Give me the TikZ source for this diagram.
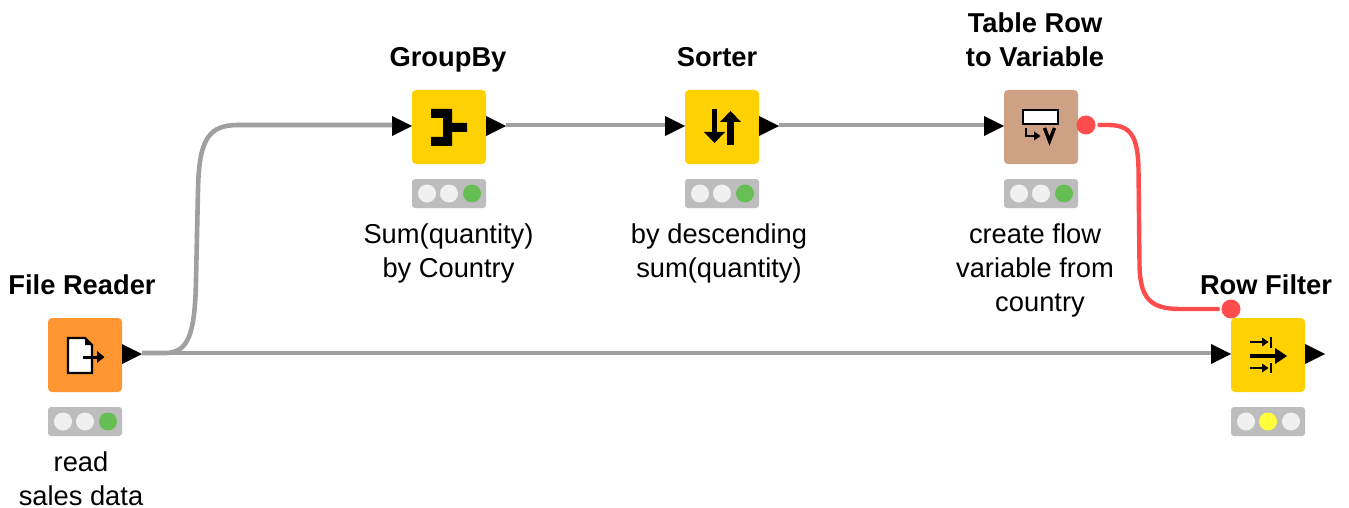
\documentclass[tikz,border=0pt]{standalone}
\usepackage{fontspec}
\setmainfont{Liberation Sans}
\usetikzlibrary{shapes.geometric}
\definecolor{kOrange}{RGB}{255,150,50}
\definecolor{kYellow}{RGB}{255,209,0}
\definecolor{kTan}{RGB}{207,161,132}
\definecolor{kGrey}{RGB}{160,160,160}
\definecolor{kRed}{RGB}{255,77,77}
\definecolor{kBar}{RGB}{189,189,189}
\definecolor{kOff}{RGB}{240,240,240}
\definecolor{kGreen}{RGB}{102,190,85}
\definecolor{kLamp}{RGB}{255,255,60}
\tikzset{
  kbox/.style={rectangle,rounded corners=4pt,minimum size=74pt,inner sep=0pt,outer sep=0pt,fill=#1},
  kport/.style={isosceles triangle,isosceles triangle stretches,shape border rotate=0,minimum width=20pt,minimum height=20pt,inner sep=0pt,outer sep=0pt,fill=black},
  kvar/.style={circle,minimum size=19pt,inner sep=0pt,outer sep=0pt,fill=kRed},
  kbar/.style={rectangle,rounded corners=3pt,minimum width=74pt,minimum height=29pt,inner sep=0pt,outer sep=0pt,fill=kBar},
  klamp/.style={circle,minimum size=18pt,inner sep=0pt,outer sep=0pt,fill=#1},
  ktitle/.style={font=\fontsize{27.3}{34}\selectfont\bfseries,align=center,anchor=base,inner sep=0pt},
  kdesc/.style={font=\fontsize{27.3}{34}\selectfont,align=center,anchor=base,inner sep=0pt},
  kwire/.style={draw=kGrey,line width=4.6pt},
  kflow/.style={draw=kRed,line width=4.4pt,shorten <=2pt,shorten >=2pt},
}
% name, left x, top y, colour
\newcommand{\knode}[4]{%
  \node[kbox=#4] (#1) at (#2+37,#3+37) {};
  \node[kbar] (#1-bar) at (#2+37,#3+103.5) {};
}
% bar name, left x, top y, lamp colours
\newcommand{\klamps}[6]{%
  \node[klamp=#4] (#1-a) at (#2+15,#3+103.5) {};
  \node[klamp=#5] (#1-b) at (#2+37,#3+103.5) {};
  \node[klamp=#6] (#1-c) at (#2+60,#3+103.5) {};
}
\begin{document}
\begin{tikzpicture}[x=1pt,y=-1pt]
\useasboundingbox (0,0) rectangle (1349,508);
\fill[white] (0,0) rectangle (1349,508);

% nodes
\knode{fr}{48}{318}{kOrange}\klamps{fr}{48}{318}{kOff}{kOff}{kGreen}
\knode{gb}{412}{90}{kYellow}\klamps{gb}{412}{90}{kOff}{kOff}{kGreen}
\knode{so}{685}{90}{kYellow}\klamps{so}{685}{90}{kOff}{kOff}{kGreen}
\knode{tv}{1004}{90}{kTan}\klamps{tv}{1004}{90}{kOff}{kOff}{kGreen}
\knode{rf}{1231}{318}{kYellow}\klamps{rf}{1231}{318}{kOff}{kLamp}{kOff}

% ports
\node[kport,anchor=lower side] (fr-out) at ([yshift=1pt]fr.east) {};
\node[kport,anchor=apex] (gb-in) at ([yshift=1pt]gb.west) {};
\node[kport,anchor=lower side] (gb-out) at ([yshift=1pt]gb.east) {};
\node[kport,anchor=apex] (so-in) at ([yshift=1pt]so.west) {};
\node[kport,anchor=lower side] (so-out) at ([yshift=1pt]so.east) {};
\node[kport,anchor=apex] (tv-in) at ([yshift=1pt]tv.west) {};
\node[kvar] (tv-out) at (1086,125) {};
\node[kport,anchor=apex] (rf-in) at ([yshift=1pt]rf.west) {};
\node[kport,anchor=lower side] (rf-out) at ([yshift=1pt]rf.east) {};
\node[kvar] (rf-var) at (1231,309) {};

% connectors (they leave the ports 1px above the port axis)
\draw[kwire] ([yshift=1pt]fr-out.apex) -- ([yshift=1pt]rf-in.lower side);
\draw[kwire] ([yshift=1pt]fr-out.apex) -- (165,353) .. controls (188,353) and (195,335) .. (196,280)
  -- (198,190) .. controls (199,140) and (208,125) .. (238,125) -- ([yshift=1pt]gb-in.lower side);
\draw[kwire] ([yshift=1pt]gb-out.apex) -- ([yshift=1pt]so-in.lower side);
\draw[kwire] ([yshift=1pt]so-out.apex) -- ([yshift=1pt]tv-in.lower side);
\draw[kflow] (tv-out.east) -- (1108,125) .. controls (1130,125) and (1138,135) .. (1138.5,170)
  -- (1139.5,265) .. controls (1140,298) and (1150,309) .. (1180,309) -- (rf-var.west);

% icons
\fill[white,draw=black,line width=2.4pt,line join=miter] (68,338) -- (85,338) -- (92,345) -- (92,373) -- (68,373) -- cycle;
\fill[black] (85,338) -- (85,345) -- (92,345) -- cycle;
\draw[black,line width=3pt] (83,357) -- (100,357);
\fill[black] (97,351) -- (104.5,357) -- (97,363) -- cycle;

\fill[black] (431,109) -- (452,109) -- (452,123) -- (467,123) -- (467,132) -- (452,132) -- (452,146) -- (431,146) -- (431,137) -- (443,137) -- (443,118) -- (431,118) -- cycle;

\fill[black] (712,109) rectangle (717,134);
\fill[black] (704,132) -- (725,132) -- (714.5,143) -- cycle;
\fill[black] (727,122) rectangle (734,145);
\fill[black] (720,122) -- (741,122) -- (730.5,111) -- cycle;

\fill[white,draw=black,line width=2.6pt] (1023,110) rectangle (1058,124);
\draw[black,line width=2.4pt] (1026,128) -- (1026,136) -- (1036,136);
\fill[black] (1034,131.5) -- (1040.5,136) -- (1034,140.5) -- cycle;
\draw[black,line width=3.4pt,line join=miter] (1044.5,128) -- (1049.5,141) -- (1054.5,128);

\draw[black,line width=2.6pt] (1250,342) -- (1264,342);
\fill[black] (1262,337.5) -- (1268.5,342) -- (1262,346.5) -- cycle;
\draw[black,line width=2.6pt] (1271,337) -- (1271,348);
\draw[black,line width=4pt] (1250,356) -- (1278,356);
\fill[black] (1275,348) -- (1287,356) -- (1275,364) -- cycle;
\draw[black,line width=2.6pt] (1250,368) -- (1264,368);
\fill[black] (1262,363.5) -- (1268.5,368) -- (1262,372.5) -- cycle;
\draw[black,line width=2.6pt] (1271,363) -- (1271,373);

% labels
\node[ktitle] (fr-t) at (82,294) {File Reader};
\node[ktitle] (gb-t) at (448,66.7) {GroupBy};
\node[ktitle] (so-t) at (717,66.7) {Sorter};
\node[ktitle] (tv-t) at (1035,66.7) {Table Row\\to Variable};
\node[ktitle] (rf-t) at (1266,294) {Row Filter};
\node[kdesc] (fr-d) at (81,505) {read\\sales data};
\node[kdesc] (gb-d) at (448.5,277.7) {Sum(quantity)\\by Country};
\node[kdesc] (so-d) at (719,277.7) {by descending\\sum(quantity)};
\node[kdesc] (tv-d) at (1035,311.7) {create flow\\variable from\\\hspace*{10pt}country};
\end{tikzpicture}
\end{document}
